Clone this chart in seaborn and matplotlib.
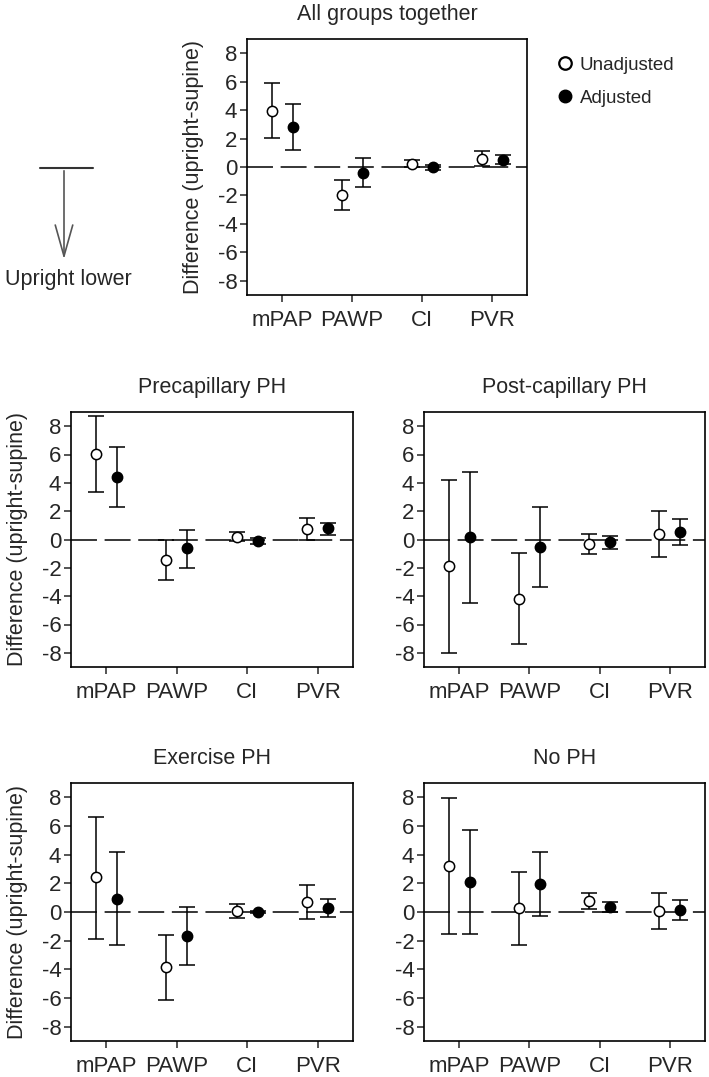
import numpy as np
import pandas as pd
import matplotlib

matplotlib.use("Agg")
import matplotlib.pyplot as plt
from matplotlib.lines import Line2D
from matplotlib.patches import FancyArrowPatch
import seaborn as sns

# ----------------------------------------------------------------------
# Data: upright minus supine differences with 95% CI
# ----------------------------------------------------------------------
MEASURES = ["mPAP", "PAWP", "CI", "PVR"]
PANELS = ["All groups together", "Precapillary PH", "Post-capillary PH",
          "Exercise PH", "No PH"]

# All groups together
all_unadj = [3.95, -1.96, 0.24, 0.59]
all_unadj_lo = [2.06, -2.99, 0.00, 0.05]
all_unadj_hi = [5.92, -0.94, 0.47, 1.13]
all_adj = [2.81, -0.40, 0.00, 0.52]
all_adj_lo = [1.22, -1.38, -0.19, 0.19]
all_adj_hi = [4.42, 0.61, 0.16, 0.87]

# Precapillary PH
pre_unadj = [6.02, -1.42, 0.20, 0.77]
pre_unadj_lo = [3.37, -2.88, -0.14, 0.00]
pre_unadj_hi = [8.70, 0.00, 0.50, 1.50]
pre_adj = [4.40, -0.63, -0.12, 0.79]
pre_adj_lo = [2.28, -1.98, -0.30, 0.35]
pre_adj_hi = [6.50, 0.70, 0.12, 1.20]

# Post-capillary PH
post_unadj = [-1.88, -4.19, -0.30, 0.37]
post_unadj_lo = [-7.98, -7.35, -1.05, -1.23]
post_unadj_hi = [4.20, -0.98, 0.40, 1.98]
post_adj = [0.16, -0.56, -0.21, 0.53]
post_adj_lo = [-4.47, -3.37, -0.67, -0.40]
post_adj_hi = [4.77, 2.28, 0.26, 1.42]

# Exercise PH
ex_unadj = [2.42, -3.87, 0.10, 0.70]
ex_unadj_lo = [-1.85, -6.15, -0.42, -0.47]
ex_unadj_hi = [6.64, -1.60, 0.59, 1.85]
ex_adj = [0.92, -1.64, 0.00, 0.30]
ex_adj_lo = [-2.32, -3.69, -0.05, -0.35]
ex_adj_hi = [4.18, 0.38, 0.05, 0.94]

# No PH
no_unadj = [3.22, 0.26, 0.80, 0.10]
no_unadj_lo = [-1.55, -2.30, 0.21, -1.22]
no_unadj_hi = [7.98, 2.80, 1.36, 1.34]
no_adj = [2.07, 1.95, 0.38, 0.16]
no_adj_lo = [-1.55, -0.30, 0.00, -0.56]
no_adj_hi = [5.72, 4.21, 0.73, 0.85]

Y_TICKS = [-8, -6, -4, -2, 0, 2, 4, 6, 8]

series = {
    "All groups together": [(all_unadj, all_unadj_lo, all_unadj_hi),
                            (all_adj, all_adj_lo, all_adj_hi)],
    "Precapillary PH": [(pre_unadj, pre_unadj_lo, pre_unadj_hi),
                        (pre_adj, pre_adj_lo, pre_adj_hi)],
    "Post-capillary PH": [(post_unadj, post_unadj_lo, post_unadj_hi),
                          (post_adj, post_adj_lo, post_adj_hi)],
    "Exercise PH": [(ex_unadj, ex_unadj_lo, ex_unadj_hi),
                    (ex_adj, ex_adj_lo, ex_adj_hi)],
    "No PH": [(no_unadj, no_unadj_lo, no_unadj_hi),
              (no_adj, no_adj_lo, no_adj_hi)],
}

rows = []
for panel, (unadj, adj) in series.items():
    for kind, (est, lo, hi) in zip(["Unadjusted", "Adjusted"], [unadj, adj]):
        for i, m in enumerate(MEASURES):
            rows.append({"panel": panel, "kind": kind, "measure": m, "idx": i,
                         "est": est[i], "lo": lo[i], "hi": hi[i]})
df = pd.DataFrame(rows)

# ----------------------------------------------------------------------
# Style
# ----------------------------------------------------------------------
sns.set_theme(style="ticks")
plt.rcParams["font.family"] = ["Liberation Sans", "DejaVu Sans"]
plt.rcParams["axes.unicode_minus"] = False
FS = 15.5
TICK_FS = 16

OFFSET = {"Unadjusted": -0.15, "Adjusted": 0.15}
FACE = {"Unadjusted": "white", "Adjusted": "black"}

W, H = 709, 1077
fig = plt.figure(figsize=(W / 100, H / 100), dpi=100)


def px_axes(left, top, right, bottom):
    return fig.add_axes([left / W, 1 - bottom / H, (right - left) / W,
                         (bottom - top) / H])


axes = {
    "All groups together": px_axes(247, 39, 527, 295),
    "Precapillary PH": px_axes(71, 412, 353, 667),
    "Post-capillary PH": px_axes(424, 412, 705, 667),
    "Exercise PH": px_axes(71, 783, 353, 1041),
    "No PH": px_axes(424, 783, 705, 1041),
}
with_ylabel = {"All groups together", "Precapillary PH", "Exercise PH"}

for panel, ax in axes.items():
    sub = df[df["panel"] == panel]
    ax.axhline(0, color="black", lw=1.1, dashes=(17, 5), zorder=1)
    for kind in ["Unadjusted", "Adjusted"]:
        d = sub[sub["kind"] == kind].copy()
        d["x"] = d["idx"] + OFFSET[kind]
        ax.errorbar(d["x"], d["est"], yerr=[d["est"] - d["lo"], d["hi"] - d["est"]],
                    fmt="none", ecolor="black", elinewidth=1.1, capsize=6,
                    capthick=1.1, zorder=2)
        sns.scatterplot(data=d, x="x", y="est", ax=ax, s=55, marker="o",
                        color=FACE[kind], edgecolor="black", linewidth=1.1,
                        zorder=3, legend=False)
    ax.set_xlim(-0.5, 3.5)
    ax.set_ylim(-9, 9)
    ax.set_xticks(range(len(MEASURES)))
    ax.set_xticklabels(MEASURES)
    ax.set_yticks(Y_TICKS)
    ax.set_xlabel("")
    ax.set_ylabel("Difference (upright-supine)" if panel in with_ylabel else "",
                  fontsize=FS, labelpad=10)
    ax.set_title(panel, fontsize=FS, pad=14)
    ax.tick_params(axis="x", length=5, width=1.1, pad=6, labelsize=TICK_FS,
                   direction="out")
    ax.tick_params(axis="y", length=5, width=1.1, pad=2, labelsize=TICK_FS,
                   direction="out")
    for sp in ax.spines.values():
        sp.set_visible(True)
        sp.set_linewidth(1.2)
        sp.set_color("black")

# Legend to the right of the top panel
handles = [
    Line2D([], [], ls="none", marker="o", ms=9, mfc="white", mec="black", mew=1.6,
           label="Unadjusted"),
    Line2D([], [], ls="none", marker="o", ms=9, mfc="black", mec="black",
           label="Adjusted"),
]
fig.legend(handles=handles, loc="upper left", bbox_to_anchor=(546 / W, 1 - 49 / H),
           frameon=False, fontsize=13.5, handletextpad=0.2, labelspacing=0.85,
           handlelength=1.2, borderaxespad=0)

# "Upright lower" key on the left
fig.add_artist(Line2D([40 / W, 93 / W], [1 - 168 / H, 1 - 168 / H],
                      color="#333333", lw=1.5, transform=fig.transFigure))
fig.add_artist(FancyArrowPatch((64 / W, 1 - 168 / H), (64 / W, 1 - 262 / H),
                               transform=fig.transFigure, color="#555555",
                               lw=1.2, mutation_scale=14,
                               arrowstyle="->,head_length=1.6,head_width=0.45"))
fig.text(68 / W, 1 - 280 / H, "Upright lower", fontsize=FS, ha="center",
         va="center")

fig.savefig("out.png", dpi=100)
